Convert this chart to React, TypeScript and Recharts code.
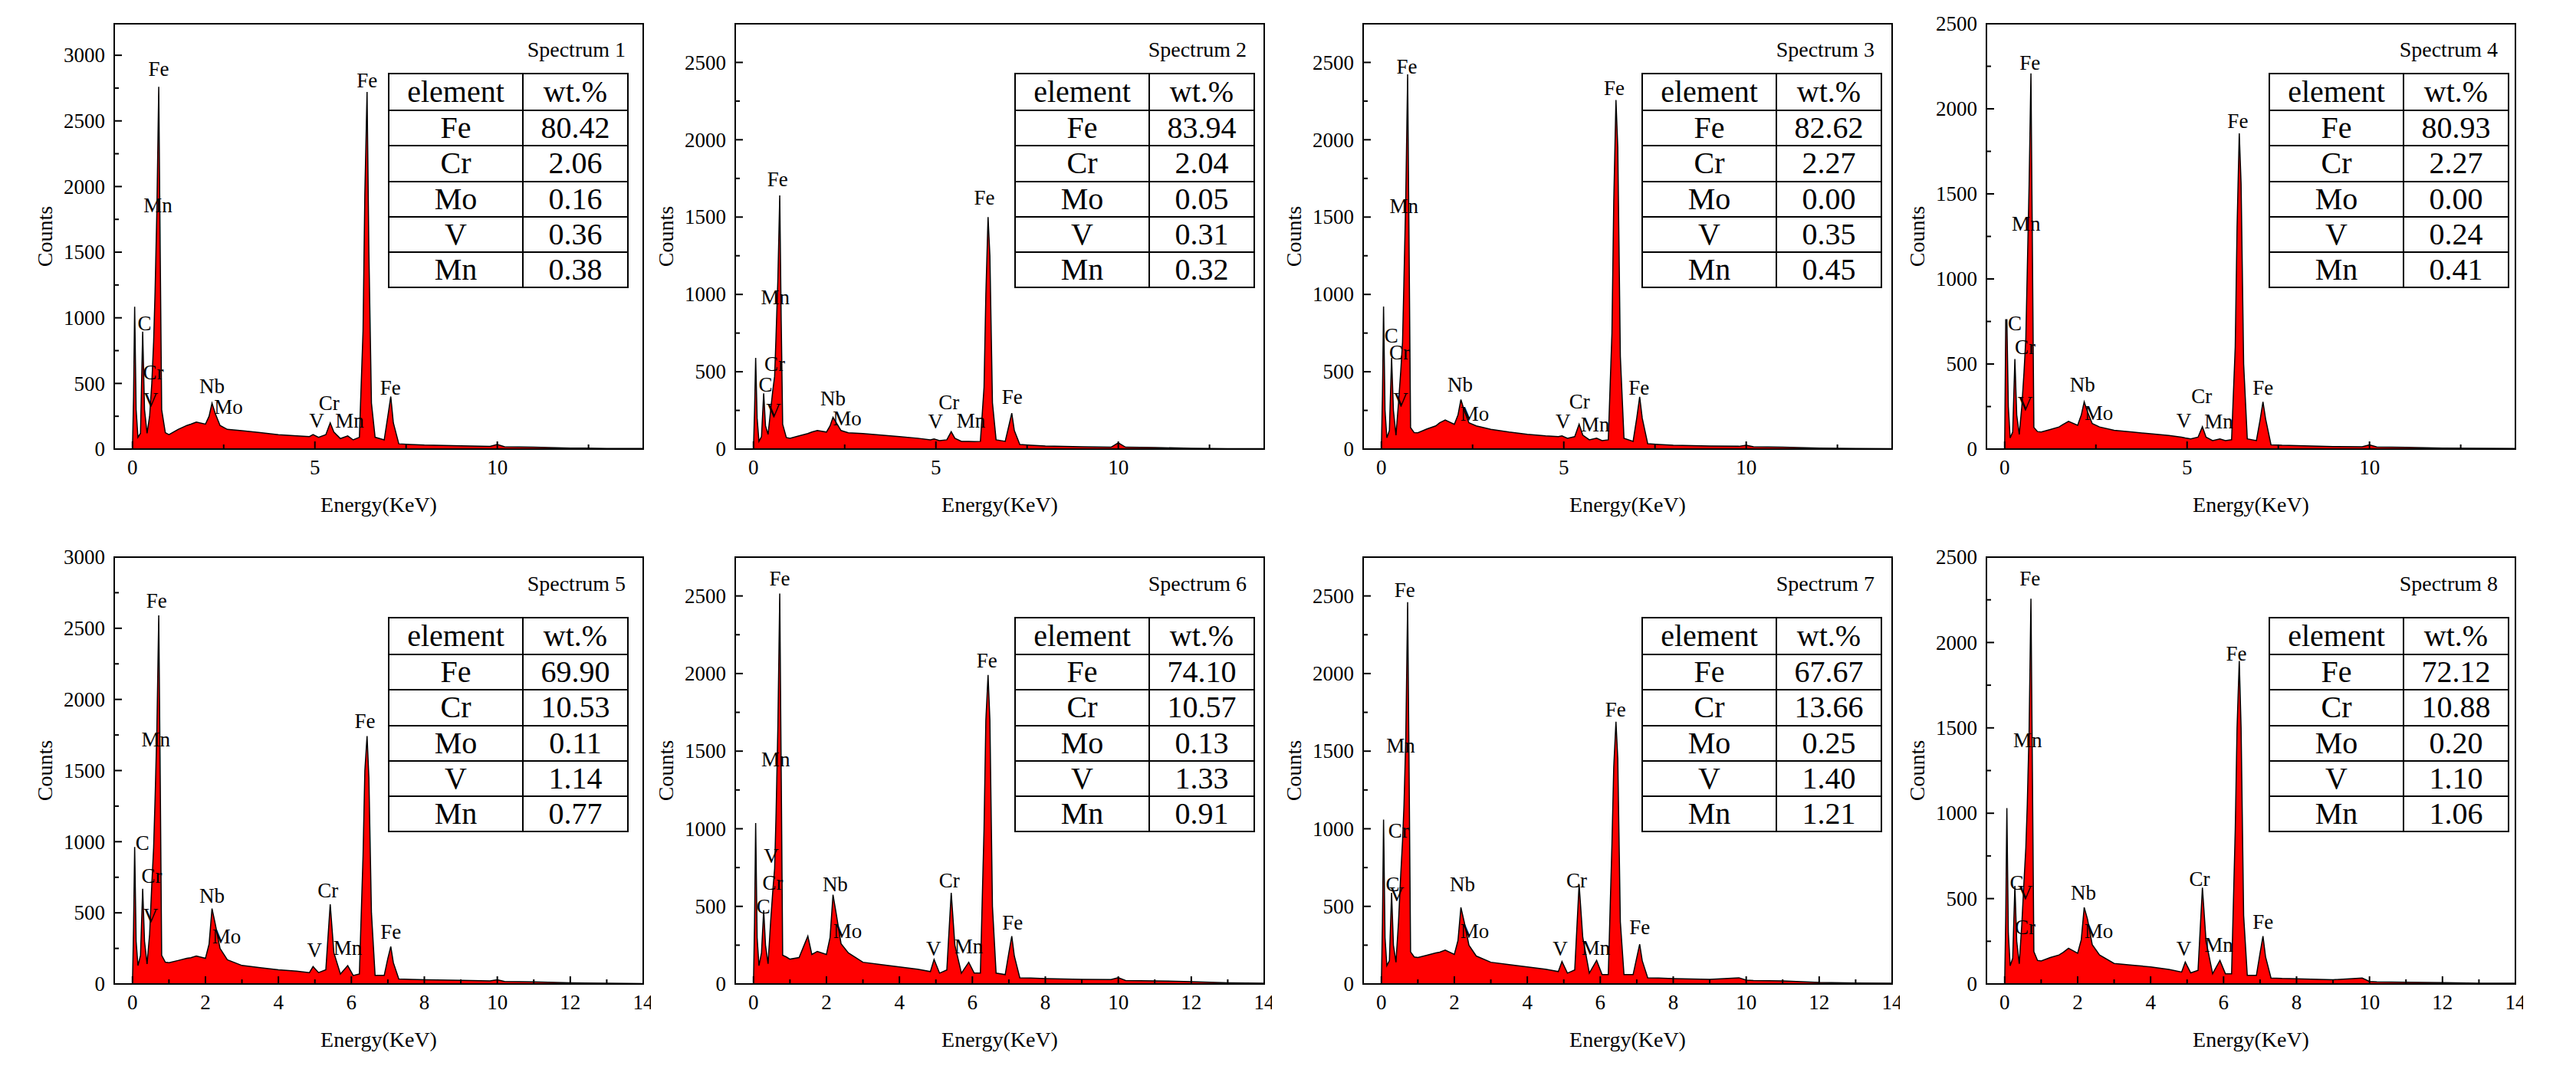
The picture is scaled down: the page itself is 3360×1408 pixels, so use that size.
import { AreaChart, Area, XAxis, YAxis, ReferenceDot, ReferenceArea } from 'recharts';

// energy channels (keV), shared by all eight spectra
const energy = [
  0, 0.03, 0.06, 0.1, 0.15, 0.22, 0.28, 0.33, 0.4, 0.47, 0.53, 0.58, 0.62, 0.67, 0.72, 0.76,
  0.8, 0.9, 1.0, 1.25, 1.49, 1.6, 1.75, 2.0, 2.1, 2.18, 2.27, 2.4, 2.6, 3.0, 3.5, 4.0,
  4.5, 4.85, 4.95, 5.1, 5.3, 5.42, 5.52, 5.7, 5.9, 6.05, 6.22, 6.32, 6.37, 6.43, 6.48, 6.55,
  6.65, 6.9, 7.0, 7.08, 7.15, 7.3, 7.6, 8.0, 9.0, 9.8, 10.0, 10.2, 11.0, 12.0, 13.0, 14.0,
];

const spectrum1 = [
  0, 400, 1085, 300, 90, 120, 895, 300, 120, 250, 500, 815, 1200, 1830, 2760, 1500,
  300, 125, 110, 150, 180, 190, 205, 190, 250, 350, 270, 180, 150, 140, 125, 110,
  100, 95, 110, 90, 110, 200, 130, 80, 100, 70, 90, 900, 1950, 2720, 1500, 350,
  90, 70, 250, 400, 200, 40, 35, 30, 25, 20, 35, 18, 15, 8, 5, 5,
];
const spectrum2 = [
  0, 250, 590, 200, 50, 80, 360, 150, 95, 250, 380, 470, 740, 1105, 1640, 830,
  160, 75, 70, 85, 100, 110, 120, 110, 150, 205, 170, 120, 105, 100, 90, 80,
  70, 60, 65, 55, 60, 112, 70, 50, 50, 48, 50, 400, 1000, 1500, 1250, 300,
  60, 50, 150, 232, 120, 30, 25, 20, 15, 12, 40, 12, 10, 5, 3, 3,
];
const spectrum3 = [
  0, 350, 922, 250, 73, 120, 591, 250, 90, 300, 500, 690, 1100, 1640, 2423, 1286,
  139, 106, 105, 130, 150, 170, 188, 160, 220, 320, 250, 170, 150, 128, 110, 95,
  85, 80, 85, 70, 80, 161, 90, 60, 70, 55, 60, 750, 1600, 2257, 1950, 600,
  70, 50, 200, 338, 200, 35, 30, 25, 20, 18, 25, 15, 12, 6, 4, 3,
];
const spectrum4 = [
  0, 760, 760, 250, 66, 100, 529, 200, 86, 250, 450, 650, 1050, 1555, 2208, 1173,
  127, 103, 100, 115, 130, 145, 163, 140, 200, 278, 220, 150, 130, 110, 100, 90,
  80, 70, 65, 60, 70, 131, 70, 50, 60, 50, 55, 600, 1300, 1856, 1560, 500,
  60, 50, 170, 278, 180, 25, 22, 20, 15, 14, 25, 12, 10, 6, 4, 3,
];
const spectrum5 = [
  0, 400, 963, 300, 129, 200, 669, 300, 141, 350, 700, 956, 1300, 1796, 2591, 1467,
  202, 153, 150, 165, 180, 185, 197, 180, 280, 530, 420, 250, 170, 130, 115, 100,
  90, 80, 122, 80, 100, 560, 220, 70, 129, 60, 70, 900, 1500, 1742, 1450, 500,
  60, 60, 180, 263, 150, 35, 32, 30, 25, 22, 30, 18, 15, 8, 5, 3,
];
const spectrum6 = [
  0, 400, 1037, 300, 118, 200, 475, 250, 130, 400, 600, 743, 1100, 1668, 2516, 1367,
  185, 174, 160, 170, 308, 190, 210, 190, 300, 575, 450, 260, 200, 140, 125, 110,
  95, 80, 158, 70, 90, 587, 250, 70, 140, 70, 70, 1000, 1700, 1991, 1700, 500,
  70, 60, 200, 308, 180, 40, 38, 35, 30, 28, 40, 22, 20, 15, 8, 5,
];
const spectrum7 = [
  0, 400, 1059, 300, 118, 150, 587, 250, 140, 400, 700, 921, 1150, 1590, 2460, 1367,
  207, 174, 170, 185, 200, 205, 218, 190, 280, 493, 400, 250, 180, 140, 125, 110,
  95, 80, 145, 70, 90, 642, 300, 70, 152, 60, 60, 900, 1400, 1690, 1450, 400,
  60, 60, 170, 256, 150, 40, 38, 35, 30, 40, 25, 22, 20, 10, 6, 5,
];
const spectrum8 = [
  0, 400, 1030, 300, 107, 150, 574, 250, 118, 350, 600, 797, 1050, 1486, 2257, 1243,
  189, 138, 135, 155, 170, 185, 209, 180, 260, 448, 380, 230, 170, 120, 110, 100,
  85, 70, 128, 65, 80, 564, 250, 60, 138, 60, 60, 900, 1500, 1892, 1500, 400,
  50, 50, 180, 280, 160, 35, 32, 30, 25, 35, 15, 12, 10, 8, 5, 4,
];

// wt.% tables
const elements = ['Fe', 'Cr', 'Mo', 'V', 'Mn'];
const wt1 = [80.42, 2.06, 0.16, 0.36, 0.38];
const wt2 = [83.94, 2.04, 0.05, 0.31, 0.32];
const wt3 = [82.62, 2.27, 0.0, 0.35, 0.45];
const wt4 = [80.93, 2.27, 0.0, 0.24, 0.41];
const wt5 = [69.9, 10.53, 0.11, 1.14, 0.77];
const wt6 = [74.1, 10.57, 0.13, 1.33, 0.91];
const wt7 = [67.67, 13.66, 0.25, 1.4, 1.21];
const wt8 = [72.12, 10.88, 0.2, 1.1, 1.06];

// peak annotations: [element, energy keV, counts at text baseline]
type Peak = [string, number, number];
const peaks1: Peak[] = [
  ['Fe', 0.72, 2844], ['Mn', 0.7, 1801], ['C', 0.33, 907], ['Cr', 0.57, 529], ['V', 0.5, 320],
  ['Nb', 2.18, 425], ['Mo', 2.63, 268], ['V', 5.05, 164], ['Cr', 5.39, 300], ['Mn', 5.95, 164],
  ['Fe', 6.43, 2757], ['Fe', 7.07, 412],
];
const peaks2: Peak[] = [
  ['Fe', 0.66, 1699], ['Mn', 0.6, 938], ['Cr', 0.58, 507], ['C', 0.33, 370], ['V', 0.55, 205],
  ['Nb', 2.18, 282], ['Mo', 2.57, 154], ['V', 4.99, 132], ['Cr', 5.36, 260], ['Mn', 5.96, 139],
  ['Fe', 6.33, 1580], ['Fe', 7.09, 293],
];
const peaks3: Peak[] = [
  ['Fe', 0.7, 2429], ['Mn', 0.62, 1525], ['C', 0.27, 690], ['Cr', 0.5, 580], ['V', 0.53, 271],
  ['Nb', 2.16, 371], ['Mo', 2.56, 183], ['V', 4.98, 132], ['Cr', 5.43, 265], ['Mn', 5.86, 113],
  ['Fe', 6.38, 2290], ['Fe', 7.06, 353],
];
const peaks4: Peak[] = [
  ['Fe', 0.69, 2228], ['Mn', 0.59, 1283], ['C', 0.28, 700], ['Cr', 0.56, 559], ['V', 0.56, 227],
  ['Nb', 2.13, 338], ['Mo', 2.58, 171], ['V', 4.91, 127], ['Cr', 5.4, 272], ['Mn', 5.87, 121],
  ['Fe', 6.39, 1887], ['Fe', 7.08, 318],
];
const peaks5: Peak[] = [
  ['Fe', 0.66, 2647], ['Mn', 0.64, 1667], ['C', 0.27, 944], ['Cr', 0.53, 713], ['V', 0.5, 433],
  ['Nb', 2.18, 572], ['Mo', 2.58, 287], ['V', 4.99, 190], ['Cr', 5.36, 608], ['Mn', 5.9, 207],
  ['Fe', 6.37, 1800], ['Fe', 7.08, 316],
];
const peaks6: Peak[] = [
  ['Fe', 0.72, 2565], ['Mn', 0.61, 1400], ['V', 0.49, 780], ['Cr', 0.53, 609], ['C', 0.27, 453],
  ['Nb', 2.24, 598], ['Mo', 2.58, 297], ['V', 4.94, 185], ['Cr', 5.37, 624], ['Mn', 5.9, 196],
  ['Fe', 6.4, 2041], ['Fe', 7.1, 352],
];
const peaks7: Peak[] = [
  ['Fe', 0.64, 2493], ['Mn', 0.53, 1490], ['Cr', 0.47, 943], ['C', 0.31, 598], ['V', 0.42, 531],
  ['Nb', 2.22, 598], ['Mo', 2.56, 297], ['V', 4.9, 185], ['Cr', 5.35, 624], ['Mn', 5.88, 190],
  ['Fe', 6.42, 1724], ['Fe', 7.08, 323],
];
const peaks8: Peak[] = [
  ['Fe', 0.69, 2332], ['Mn', 0.63, 1389], ['C', 0.33, 554], ['V', 0.56, 493], ['Cr', 0.56, 290],
  ['Nb', 2.16, 493], ['Mo', 2.58, 270], ['V', 4.91, 168], ['Cr', 5.34, 574], ['Mn', 5.87, 189],
  ['Fe', 6.35, 1892], ['Fe', 7.08, 324],
];

// axis ticks
const countTicks = [0, 250, 500, 750, 1000, 1250, 1500, 1750, 2000, 2250, 2500, 2750, 3000];
const energyTicksCoarse = [0, 2.5, 5, 7.5, 10, 12.5];
const energyTicksFine = [0, 1, 2, 3, 4, 5, 6, 7, 8, 9, 10, 11, 12, 13, 14];
const countMax = [3240, 2750, 2750, 2500, 3000, 2750, 2750, 2500];

const spectra = [spectrum1, spectrum2, spectrum3, spectrum4, spectrum5, spectrum6, spectrum7, spectrum8];
const tables = [wt1, wt2, wt3, wt4, wt5, wt6, wt7, wt8];
const peakSets = [peaks1, peaks2, peaks3, peaks4, peaks5, peaks6, peaks7, peaks8];

// layout (page pixels)
const FONT = '"Liberation Serif", "Times New Roman", serif';
const colLeft = [149, 959, 1778, 2591];
const rowTop = [31, 727];
const rowHeight = [555, 557];
const tableLeft = [506, 1323, 2141, 2959];
const tableTop = [95, 805];
const titleBase = [74, 771];
const PW = 690;
const ML = 140;
const MT = 10;
const MR = 10;
const XH = 100;

function WtTable({ left, top, values }: { left: number; top: number; values: number[] }) {
  const rows = [['element', 'wt.%'], ...elements.map((el, i) => [el, values[i].toFixed(2)])];
  return (
    <div
      style={{
        position: 'absolute',
        left,
        top,
        width: 314,
        height: 281,
        border: '2px solid #000',
        boxSizing: 'border-box',
        display: 'grid',
        gridTemplateColumns: '173px 1fr',
        gridTemplateRows: 'repeat(6, 1fr)',
        fontFamily: FONT,
        fontSize: 40,
        color: '#000',
        background: '#fff',
      }}
    >
      {rows.flatMap((r, ri) =>
        r.map((cell, ci) => (
          <div
            key={ri + '-' + ci}
            style={{
              display: 'flex',
              alignItems: 'center',
              justifyContent: 'center',
              lineHeight: 1,
              borderTop: ri ? '2px solid #000' : 'none',
              borderLeft: ci ? '2px solid #000' : 'none',
            }}
          >
            {cell}
          </div>
        ))
      )}
    </div>
  );
}

function Panel({ idx }: { idx: number }) {
  const row = idx < 4 ? 0 : 1;
  const col = idx % 4;
  const ph = rowHeight[row];
  const yMax = countMax[idx];
  const xTicks = row === 0 ? energyTicksCoarse : energyTicksFine;
  const isMajorX = (v: number) => (row === 0 ? v % 5 === 0 : v % 2 === 0);
  const yTicks = countTicks.filter((t) => t <= yMax);
  const data = energy.map((e, i) => ({ e, c: spectra[idx][i] }));
  const left = colLeft[col];
  const top = rowTop[row];

  const xTick = (props: any) => {
    const { x, y, payload } = props;
    const v = payload.value;
    const major = isMajorX(v);
    const ay = y - 15;
    return (
      <g>
        <line x1={x} x2={x} y1={ay} y2={ay - (major ? 10 : 6)} stroke="#000" strokeWidth={2} />
        {major && (
          <text x={x} y={y} dy="0.68em" textAnchor="middle" fontFamily={FONT} fontSize={27} fill="#000">
            {v}
          </text>
        )}
      </g>
    );
  };

  const yTick = (props: any) => {
    const { x, y, payload } = props;
    const v = payload.value;
    const major = v % 500 === 0;
    const ax = x + 12;
    return (
      <g>
        <line x1={ax} x2={ax + (major ? 10 : 6)} y1={y} y2={y} stroke="#000" strokeWidth={2} />
        {major && (
          <text x={x} y={y} dy="0.34em" textAnchor="end" fontFamily={FONT} fontSize={27} fill="#000">
            {v}
          </text>
        )}
      </g>
    );
  };

  const axisLine = { stroke: '#000', strokeWidth: 2 };

  return (
    <>
      <div style={{ position: 'absolute', left: left - ML, top: top - MT }}>
        <AreaChart
          width={ML + PW + MR}
          height={MT + ph + XH}
          data={data}
          margin={{ top: MT, right: MR, left: 0, bottom: 0 }}
        >
          <Area
            type="linear"
            dataKey="c"
            stroke="#000"
            strokeWidth={1.5}
            fill="#ff0000"
            fillOpacity={1}
            dot={false}
            activeDot={false}
            isAnimationActive={false}
          />
          <ReferenceArea
            x1={-0.5}
            x2={14}
            y1={0}
            y2={yMax}
            fill="none"
            fillOpacity={0}
            stroke="#000"
            strokeWidth={2}
            ifOverflow="visible"
          />
          <XAxis
            type="number"
            dataKey="e"
            domain={[-0.5, 14]}
            allowDataOverflow
            ticks={xTicks}
            interval={0}
            height={XH}
            tickSize={0}
            tickMargin={15}
            tickLine={false}
            axisLine={axisLine}
            tick={xTick}
            label={{
              value: 'Energy(KeV)',
              position: 'insideBottom',
              offset: 18,
              style: { fontFamily: FONT, fontSize: 28, fill: '#000' },
            }}
          />
          <YAxis
            type="number"
            domain={[0, yMax]}
            allowDataOverflow
            ticks={yTicks}
            interval={0}
            width={ML}
            tickSize={0}
            tickMargin={12}
            tickLine={false}
            axisLine={axisLine}
            tick={yTick}
            label={{
              value: 'Counts',
              angle: -90,
              position: 'insideLeft',
              offset: ML - 91,
              style: { fontFamily: FONT, fontSize: 28, fill: '#000', textAnchor: 'middle' },
            }}
          />
          {peakSets[idx].map((p, i) => (
            <ReferenceDot
              key={i}
              x={p[1]}
              y={p[2]}
              r={0}
              ifOverflow="visible"
              shape={(s: any) => (
                <text x={s.cx} y={s.cy} textAnchor="middle" fontFamily={FONT} fontSize={27} fill="#000">
                  {p[0]}
                </text>
              )}
            />
          ))}
        </AreaChart>
      </div>
      <div
        style={{
          position: 'absolute',
          left: left + PW - 23 - 240,
          top: titleBase[row] - 23,
          width: 240,
          textAlign: 'right',
          fontFamily: FONT,
          fontSize: 28,
          lineHeight: '28px',
          color: '#000',
        }}
      >
        {'Spectrum ' + (idx + 1)}
      </div>
      <WtTable left={tableLeft[col]} top={tableTop[row]} values={tables[idx]} />
    </>
  );
}

export default function App() {
  return (
    <div
      style={{
        position: 'absolute',
        left: 0,
        top: 0,
        width: 3360,
        height: 1408,
        background: '#fff',
        overflow: 'hidden',
      }}
    >
      {[0, 1, 2, 3, 4, 5, 6, 7].map((i) => (
        <Panel key={i} idx={i} />
      ))}
    </div>
  );
}
